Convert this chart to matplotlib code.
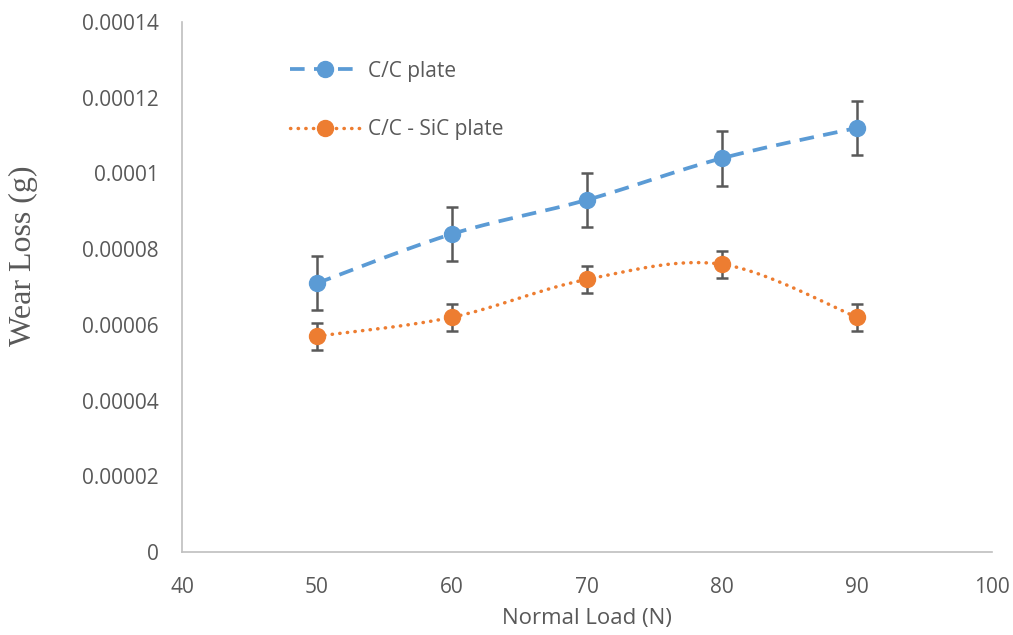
import numpy as np
import matplotlib.pyplot as plt

# Data
load = [50, 60, 70, 80, 90]
cc_wear = [7.1e-5, 8.4e-5, 9.3e-5, 1.04e-4, 1.12e-4]
cc_err = [7.2e-6, 7.2e-6, 7.2e-6, 7.2e-6, 7.2e-6]
ccsic_wear = [5.7e-5, 6.2e-5, 7.2e-5, 7.6e-5, 6.2e-5]
ccsic_err = [3.6e-6, 3.6e-6, 3.6e-6, 3.6e-6, 3.6e-6]
ytick_labels = ['0', '0.00002', '0.00004', '0.00006', '0.00008', '0.0001', '0.00012', '0.00014']


def smooth(x, y, n=40):
    # Catmull-Rom style smoothing like Excel's smoothed line
    x = np.asarray(x, float)
    y = np.asarray(y, float)
    px = np.concatenate([[x[0]], x, [x[-1]]])
    py = np.concatenate([[y[0]], y, [y[-1]]])
    xs, ys = [], []
    for i in range(1, len(px) - 2):
        p0, p1, p2, p3 = (np.array([px[j], py[j]]) for j in range(i - 1, i + 3))
        c1 = p1 + (p2 - p0) / 6
        c2 = p2 - (p3 - p1) / 6
        t = np.linspace(0, 1, n)[:, None]
        b = (1 - t) ** 3 * p1 + 3 * (1 - t) ** 2 * t * c1 + 3 * (1 - t) * t ** 2 * c2 + t ** 3 * p2
        xs.extend(b[:, 0])
        ys.extend(b[:, 1])
    return xs, ys


blue = '#5B9BD5'
orange = '#ED7D31'
grey = '#595959'
dash_blue = dict(color=blue, lw=2.7, dashes=(3.9, 2.5))
dot_orange = dict(color=orange, lw=2.5, linestyle=(0, (0.1, 2.1)), dash_capstyle='round')

fig, ax = plt.subplots(figsize=(10.13, 6.35), dpi=100)
fig.subplots_adjust(left=0.1797, right=0.979, top=0.9654, bottom=0.1307)

sx, sy = smooth(load, cc_wear)
ax.plot(sx, sy, **dash_blue)
sx, sy = smooth(load, ccsic_wear)
ax.plot(sx, sy, **dot_orange)

ax.errorbar(load, cc_wear, yerr=cc_err, fmt='none', ecolor=grey, elinewidth=1.8, capsize=4.3, capthick=1.8)
ax.errorbar(load, ccsic_wear, yerr=ccsic_err, fmt='none', ecolor=grey, elinewidth=1.8, capsize=4.3, capthick=1.8)
ax.plot(load, cc_wear, 'o', color=blue, ms=11.5, zorder=5)
ax.plot(load, ccsic_wear, 'o', color=orange, ms=11.5, zorder=5)

# legend proxies
h1, = ax.plot([], [], marker='o', ms=11.5, **dash_blue)
h2, = ax.plot([], [], marker='o', ms=11.5, **dot_orange)
ax.legend([h1, h2], ['C/C plate', 'C/C - SiC plate'], loc='upper left', bbox_to_anchor=(0.133, 0.927),
          frameon=False, borderpad=0, borderaxespad=0, labelspacing=1.8, handlelength=3.4,
          handletextpad=0.35, prop={'family': 'Open Sans', 'size': 15}, labelcolor=grey)

ax.set_xlim(40, 100)
ax.set_ylim(0, 0.00014)
ax.set_xticks(np.arange(40, 101, 10))
ax.set_yticks(np.arange(0, 0.000141, 0.00002))
ax.set_yticklabels(ytick_labels)
for lab in ax.get_xticklabels() + ax.get_yticklabels():
    lab.set_fontfamily('Open Sans')
    lab.set_fontsize(15)
    lab.set_color(grey)
ax.tick_params(axis='y', length=0, pad=17)
ax.tick_params(axis='x', length=0, pad=18)

for s in ['top', 'right']:
    ax.spines[s].set_visible(False)
for s in ['left', 'bottom']:
    ax.spines[s].set_color('#BFBFBF')
    ax.spines[s].set_linewidth(1.2)

ax.set_xlabel('Normal Load (N)', fontfamily='Open Sans', fontsize=16, color=grey, labelpad=7)
ax.set_ylabel('Wear Loss (g)', fontfamily='Liberation Serif', fontsize=23, color=grey)
ax.yaxis.set_label_coords(-0.178, 0.558)

plt.savefig('out.png')
